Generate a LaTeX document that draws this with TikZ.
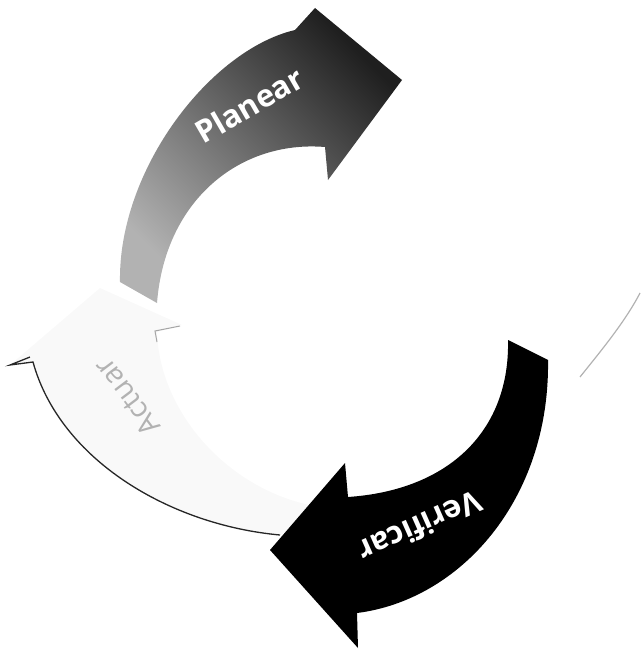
\documentclass[tikz,border=0pt]{standalone}
\usepackage{fontspec}
\setmainfont{Open Sans}
\begin{document}
\begin{tikzpicture}[x=1pt,y=-1pt,
  lbl/.style={font=\fontsize{31}{33}\selectfont\bfseries, inner sep=0pt},
  edge/.style={line width=1.3pt, black!85}]
\useasboundingbox (0,0) rectangle (641,650);
% Actuar (light)
\fill[gray!5] (10,365) -- (100,288) -- (182,325) -- (157,332)
  .. controls (160,420) and (240,500) .. (330,508)
  -- (280,535)
  .. controls (170,525) and (60,460) .. (33,362)
  -- cycle;
\draw[edge] (280,535) .. controls (170,525) and (60,460) .. (33,362) -- (10,365) -- (30,357);
\draw[gray!70, line width=1pt] (157,342) -- (155,331) -- (180,326);
\node[font=\fontsize{29}{31}\selectfont, inner sep=0pt, rotate=127, text=gray!60] (actuar) at (127,397) {Actuar};
% Hacer (white, faint edge)
\draw[gray!60, line width=1.2pt] (580,377) .. controls (600,352) and (625,322) .. (640,293);
% Planear
\shade[top color=gray!60, bottom color=black!88, shading angle=135]
  (120,282) .. controls (118,170) and (210,50) .. (295,30)
  -- (315,8) -- (402,80) -- (328,180) -- (325,147)
  .. controls (240,140) and (165,200) .. (157,303)
  -- cycle;
\node[lbl, rotate=30, text=white] (planear) at (249,105) {Planear};
% Verificar
\fill[black] (508,340) -- (548,360)
  .. controls (550,500) and (460,600) .. (357,613)
  -- (358,648) -- (270,550) -- (345,463) -- (348,497)
  .. controls (450,490) and (510,430) .. (508,340)
  -- cycle;
\node[lbl, rotate=-156, text=white] (verificar) at (420,527) {Verificar};
\end{tikzpicture}
\end{document}
